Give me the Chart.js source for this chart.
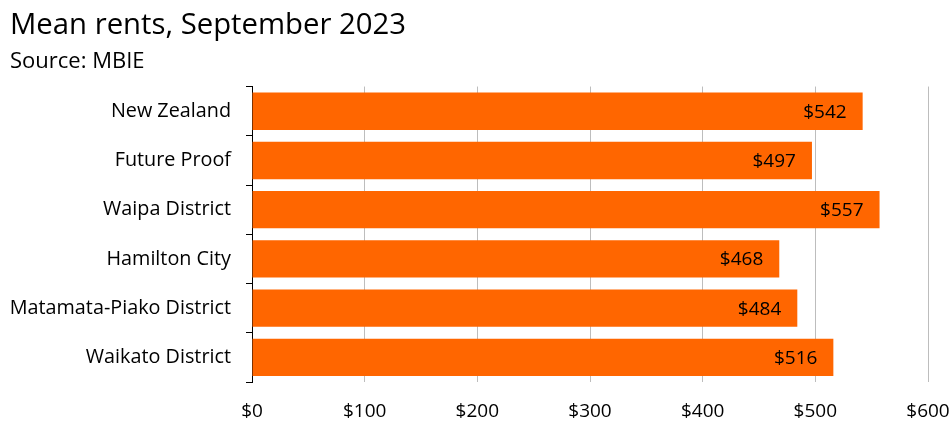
<!DOCTYPE html>
<html>
<head>
<meta charset="utf-8">
<script src="https://cdn.jsdelivr.net/npm/chart.js@4/dist/chart.umd.min.js"></script>
<style>
  html, body { margin: 0; padding: 0; background: #fff; }
  #wrap { width: 950px; height: 421px; }
</style>
</head>
<body>
<div id="wrap"><canvas id="c" width="950" height="421"></canvas></div>
<script>
// Mean weekly rents by area, September 2023 (MBIE)
const categories = [
  'New Zealand',
  'Future Proof',
  'Waipa District',
  'Hamilton City',
  'Matamata-Piako District',
  'Waikato District'
];
const meanRents = [542, 497, 557, 468, 484, 516];
const xTickValues = [0, 100, 200, 300, 400, 500, 600];

const FONT = "'Open Sans', 'Noto Sans', sans-serif";

// Writes the dollar value inside the end of each bar
const barValueLabels = {
  id: 'barValueLabels',
  afterDatasetsDraw(chart) {
    const ctx = chart.ctx;
    const meta = chart.getDatasetMeta(0);
    ctx.save();
    ctx.font = '19px ' + FONT;
    ctx.fillStyle = '#000';
    ctx.textAlign = 'right';
    ctx.textBaseline = 'middle';
    meta.data.forEach((bar, i) => {
      ctx.fillText('$' + meanRents[i], bar.x - 16, bar.y + 1);
    });
    ctx.restore();
  }
};

new Chart(document.getElementById('c'), {
  type: 'bar',
  data: {
    labels: categories,
    datasets: [{
      data: meanRents,
      backgroundColor: '#FF6600',
      borderWidth: 0,
      barPercentage: 0.76,
      categoryPercentage: 1.0
    }]
  },
  options: {
    indexAxis: 'y',
    responsive: false,
    animation: false,
    layout: { padding: { left: 10, right: 22, top: 0, bottom: 0 } },
    plugins: {
      legend: { display: false },
      tooltip: { enabled: false },
      title: {
        display: true,
        text: 'Mean rents, September 2023',
        align: 'start',
        color: '#000',
        font: { family: FONT, size: 29.3, weight: 'normal', lineHeight: 1.2 },
        padding: { top: 8, bottom: 0 }
      },
      subtitle: {
        display: true,
        text: 'Source: MBIE',
        align: 'start',
        color: '#000',
        font: { family: FONT, size: 22, weight: 'normal', lineHeight: 1.2 },
        padding: { top: 5, bottom: 12 }
      }
    },
    scales: {
      x: {
        min: 0,
        max: 600,
        afterBuildTicks(scale) {
          scale.ticks = xTickValues.map(v => ({ value: v }));
        },
        afterFit(scale) {
          scale.height = 39;
          scale.paddingLeft = 0;
          scale.paddingRight = 0;
        },
        border: { display: false },
        grid: {
          color: '#BDBDBD',
          lineWidth: 1,
          drawTicks: false
        },
        ticks: {
          color: '#000',
          padding: 18,
          font: { family: FONT, size: 19 },
          callback: v => '$' + v
        }
      },
      y: {
        afterFit(scale) {
          scale.width = 242;
          scale.paddingTop = 0;
          scale.paddingBottom = 0;
        },
        border: { display: true, color: '#000', width: 1 },
        grid: {
          offset: true,
          drawOnChartArea: false,
          drawTicks: true,
          tickLength: 6,
          color: '#000'
        },
        ticks: {
          color: '#000',
          padding: 15,
          font: { family: FONT, size: 19.8 }
        }
      }
    }
  },
  plugins: [barValueLabels]
});
</script>
</body>
</html>
